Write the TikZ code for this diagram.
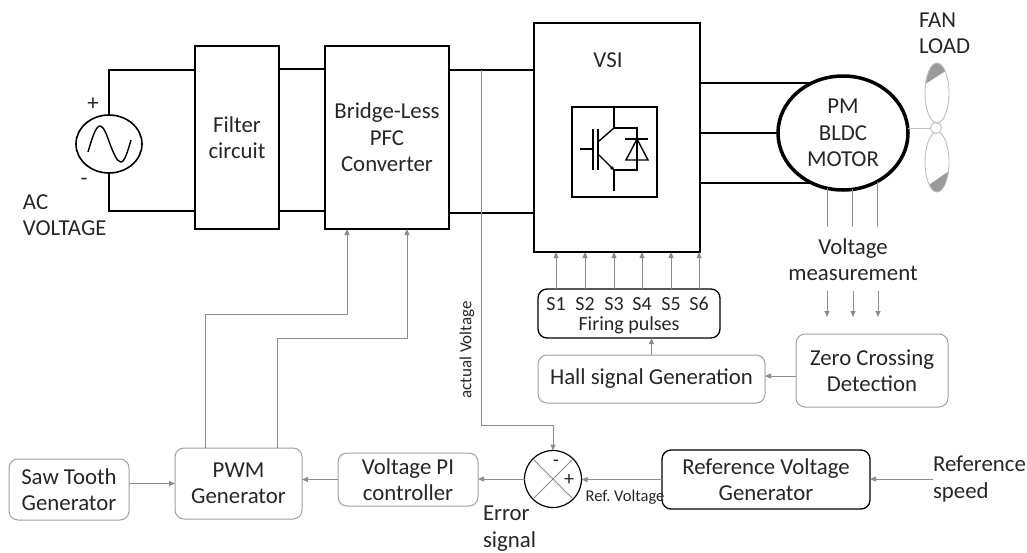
\documentclass[tikz,border=0pt]{standalone}
\usepackage{fontspec}
\setmainfont{Carlito}
\usetikzlibrary{arrows.meta,shapes.geometric}
\definecolor{lg}{HTML}{8C8C8C}
\definecolor{bgr}{HTML}{A0A0A0}
\definecolor{txt}{HTML}{262626}
\definecolor{blade}{HTML}{BDBDBD}
\definecolor{bladefill}{HTML}{9A9A9A}
\frenchspacing
\begin{document}
\begin{tikzpicture}[x=1pt,y=-1pt,
  every node/.style={font=\fontsize{22.8}{26.5}\selectfont, text=txt, align=center, inner sep=0pt, outer sep=0pt},
  wire/.style={black, line width=2pt},
  blk/.style={draw=black, line width=2pt, rectangle},
  gline/.style={lg, line width=1pt},
  garrow/.style={lg, line width=1pt, -{Triangle[length=6pt,width=5pt]}},
  rbox/.style={draw=bgr, line width=1pt, rounded corners=9pt, rectangle},
  rboxk/.style={draw=black, line width=1.3pt, rounded corners=9pt, rectangle},
  small/.style={font=\fontsize{16.5}{20}\selectfont},
  fpfont/.style={font=\fontsize{20}{24}\selectfont},
  sw/.style={black, line width=1.4pt},
]
\useasboundingbox (0,0) rectangle (1027,552);

% ---- power stage ----
\node[draw=black, line width=1.6pt, ellipse, minimum width=66, minimum height=58] (ac) at (109,144) {};
\draw[black, line width=1.4pt] (88,152) sin (100,126) cos (110,144) sin (121,162) cos (131,140);
\node (plus) at (93,104) {+};
\node (minus) at (84,182) {-};
\node[anchor=west, align=left] (acv) at (23,215) {AC\\VOLTAGE};

\node[blk, minimum width=84, minimum height=183] (filter) at (237,137.5) {Filter\\circuit};
\node[blk, minimum width=124, minimum height=183] (pfc) at (387,137.5) {Bridge-Less\\PFC\\Converter};
\node[blk, minimum width=166, minimum height=229] (vsi) at (617,137.5) {};
\node (vsit) at (608,60) {VSI};
\node[blk, minimum width=85, minimum height=90] (swb) at (614.5,152) {};

\draw[wire] (ac.north) -- (ac.north |- 0,70) -- (filter.west |- 0,70);
\draw[wire] (ac.south) -- (ac.south |- 0,211) -- (filter.west |- 0,211);
\draw[wire] (filter.east |- 0,69) -- (pfc.west |- 0,69);
\draw[wire] (filter.east |- 0,211) -- (pfc.west |- 0,211);
\draw[wire] (pfc.east |- 0,70) -- (vsi.west |- 0,70);
\draw[wire] (pfc.east |- 0,213) -- (vsi.west |- 0,213);

% IGBT symbol
\draw[sw] (614,107) -- (614,128) -- (637,128) -- (637,170) -- (614,170) -- (614,191);
\draw[sw] (599,141) -- (614,128);
\draw[sw] (599,155) -- (614,170);
\fill (612,168) circle (1.8);
\draw[sw] (593,129) -- (593,170);
\draw[sw] (598,129) -- (598,170);
\draw[sw] (580,149) -- (593,149);
\draw[sw] (625,139) -- (648,139);
\draw[sw] (637,139) -- (626,160) -- (648,160) -- cycle;

% motor
\node[draw=black, line width=3.5pt, ellipse, minimum width=130, minimum height=114] (motor) at (843,133) {PM\\BLDC\\MOTOR};
\draw[wire] (vsi.east |- motor.121) -- (motor.121);
\draw[wire] (vsi.east |- motor.west) -- (motor.west);
\draw[wire] (vsi.east |- motor.239) -- (motor.239);

% fan
\begin{scope}
  \clip (937,93) ellipse [x radius=12, y radius=30];
  \fill[bladefill] (920,55) -- (950,55) -- (950,68) -- (920,87.5) -- cycle;
\end{scope}
\begin{scope}
  \clip (937,162) ellipse [x radius=12, y radius=30];
  \fill[bladefill] (920,191) -- (955,167) -- (955,200) -- (920,200) -- cycle;
\end{scope}
\draw[blade, line width=0.9pt] (937,93) ellipse [x radius=12, y radius=30];
\draw[blade, line width=0.9pt] (937,162) ellipse [x radius=12, y radius=30];
\node[draw=blade, fill=white, circle, minimum size=11, line width=0.9pt] (hub) at (936,128) {};
\draw[blade, line width=1pt] (motor.east |- hub.west) -- (hub.west);
\node[anchor=west, align=left] (fan) at (919,33.5) {FAN\\LOAD};

% voltage measurement
\foreach \a in {254,280,305} \draw[gline] (motor.\a) -- (motor.\a |- 0,227);
\node (vm) at (853,259.5) {Voltage\\measurement};
\coordinate (va1) at (827,291);
\coordinate (va2) at (853,291);
\coordinate (va3) at (878,291);
\node[rbox, minimum width=152, minimum height=73] (zcd) at (872,370.5) {Zero Crossing\\Detection};
\foreach \c in {va1,va2,va3} \draw[garrow, shorten >=17pt] (\c) -- (\c |- zcd.north);

% firing
\node[rbox, minimum width=227, minimum height=48] (hall) at (651.5,379) {Hall signal Generation};
\draw[garrow] (zcd.west |- 0,376) -- (hall.east |- 0,376);
\node[rboxk, minimum width=182, minimum height=49] (fp) at (629,313.5) {};
\node[fpfont] (s1) at (556,304) {S1};
\node[fpfont] (s2) at (585,304) {S2};
\node[fpfont] (s3) at (614,304) {S3};
\node[fpfont] (s4) at (642,304) {S4};
\node[fpfont] (s5) at (671,304) {S5};
\node[fpfont] (s6) at (699,304) {S6};
\node[fpfont] (fpt) at (629,325) {Firing pulses};
\foreach \s in {s1,s2,s3,s4,s5,s6} \draw[garrow] (\s |- fp.north) -- (\s |- vsi.south);
\draw[garrow] (hall.north) -- (hall.north |- fp.south);

% control loop
\node[draw=black, line width=1.2pt, circle, minimum size=57] (sum) at (553,479) {};
\draw[lg, line width=1pt] (sum.45) -- (sum.225) (sum.135) -- (sum.315);
\node[font=\fontsize{20}{24}\selectfont] (sm) at (556,463) {-};
\node[font=\fontsize{20}{24}\selectfont] (sp) at (569,480) {+};

\coordinate (tap) at (481,70);
\draw[garrow] (tap) -- (tap |- 0,425) -| (sum.north);
\node[rotate=90, font=\fontsize{17}{20}\selectfont] (av) at (467,350) {actual Voltage};

\node[rbox, minimum width=140, minimum height=53] (pi) at (408,479.5) {Voltage PI\\controller};
\node[rbox, minimum width=127, minimum height=71] (pwm) at (238.5,483.5) {PWM\\Generator};
\node[rbox, minimum width=120, minimum height=61] (saw) at (69,489.5) {Saw Tooth\\Generator};
\node[rboxk, minimum width=208, minimum height=59] (rvg) at (766,479.5) {Reference Voltage\\Generator};
\node[anchor=west, align=left] (rs) at (933,479) {Reference\\speed};

\draw[garrow] (sum.west) -- (sum.west -| pi.east);
\draw[garrow] (pi.west) -- (pi.west -| pwm.east);
\draw[garrow] (saw.east |- pwm.west) -- (pwm.west);
\draw[garrow] (rvg.west) -- (rvg.west -| sum.east);
\draw[garrow] (rs.west) -- (rs.west -| rvg.east);

\node[small] (rv) at (625,497) {Ref. Voltage};
\node[anchor=west, align=left] (err) at (483,528.5) {Error\\signal};

\coordinate (k1) at (347,314);
\coordinate (k2) at (407,338);
\draw[garrow] (pwm.north -| 205,0) |- (k1) -- (k1 |- pfc.south);
\draw[garrow] (pwm.north -| 277,0) |- (k2) -- (k2 |- pfc.south);
\end{tikzpicture}
\end{document}
